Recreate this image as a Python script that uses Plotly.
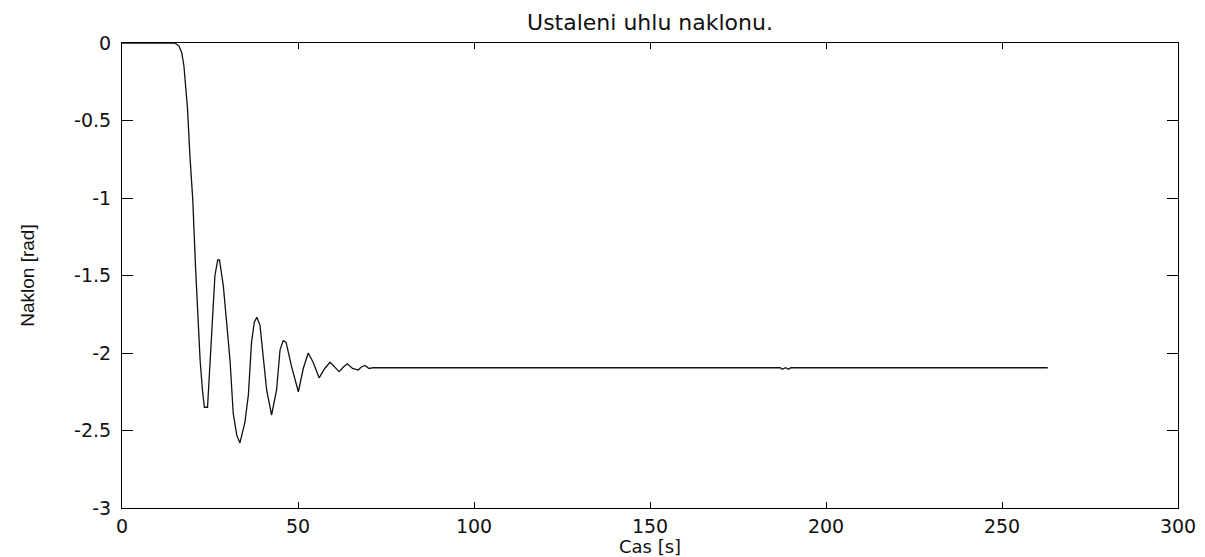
import plotly.graph_objects as go

# Data
time_s = [0, 15.0, 16.2, 17.0, 17.6, 18.6, 19.3, 20.1, 20.9, 21.7, 22.2, 22.9, 23.4, 24.3,
          24.8, 25.5, 26.4, 27.2, 27.7, 28.8, 29.7, 30.7, 31.6, 32.6, 33.5, 34.9, 35.9,
          36.8, 37.6, 38.3, 39.2, 40.2, 41.1, 42.5, 43.9, 44.9, 45.8, 46.6, 48.2, 50.1,
          51.5, 52.9, 54.3, 56.0, 57.6, 59.1, 60.4, 61.7, 62.9, 64.0, 65.5, 67.1, 68.0,
          69.0, 70.2, 71.4, 187.0, 187.6, 188.5, 189.4, 190.0, 263.0]
naklon = [0, 0, -0.02, -0.066, -0.15, -0.42, -0.73, -1.01, -1.45, -1.84, -2.05, -2.25, -2.35, -2.35,
          -2.16, -1.87, -1.50, -1.40, -1.40, -1.57, -1.82, -2.05, -2.39, -2.53, -2.58, -2.45, -2.27,
          -1.93, -1.80, -1.77, -1.82, -2.03, -2.24, -2.40, -2.24, -1.98, -1.92, -1.93, -2.09, -2.25,
          -2.10, -2.00, -2.06, -2.16, -2.10, -2.06, -2.09, -2.12, -2.09, -2.07, -2.10, -2.11, -2.09,
          -2.08, -2.10, -2.095, -2.095, -2.105, -2.095, -2.105, -2.095, -2.095]

x_ticks = [0, 50, 100, 150, 200, 250, 300]
y_ticks = [0, -0.5, -1, -1.5, -2, -2.5, -3]
y_tick_labels = ["0", "-0.5", "-1", "-1.5", "-2", "-2.5", "-3"]

W, H = 1205, 557
ML, MR, MT, MB = 122, 27, 43, 49
plot_h = H - MT - MB

fig = go.Figure()
fig.add_trace(go.Scatter(x=time_s, y=naklon, mode="lines",
                         line=dict(color="#111111", width=1.3), showlegend=False,
                         hoverinfo="x+y"))

tick_font = dict(family="DejaVu Sans", size=19, color="#111111")

fig.update_layout(
    width=W, height=H,
    margin=dict(l=ML, r=MR, t=MT, b=MB, autoexpand=False),
    paper_bgcolor="white", plot_bgcolor="white",
    title=dict(text="Ustaleni uhlu naklonu.", x=0.5, xref="paper", xanchor="center",
               y=1 - 22 / H, yref="container", yanchor="middle",
               font=dict(family="DejaVu Sans", size=22, color="#111111")),
    xaxis=dict(range=[0, 300], tickvals=x_ticks, ticks="inside", ticklen=6,
               tickcolor="black", tickwidth=1, showline=True, linecolor="black",
               linewidth=1, mirror="ticks", showgrid=False, zeroline=False,
               tickfont=tick_font, ticklabelstandoff=1),
    yaxis=dict(range=[-3, 0], tickvals=y_ticks, ticktext=y_tick_labels, ticks="inside",
               ticklen=11, tickcolor="black", tickwidth=1, showline=True,
               linecolor="black", linewidth=1, mirror="ticks", showgrid=False,
               zeroline=False, tickfont=tick_font, ticklabelstandoff=6,
               title=dict(text="Naklon [rad]", standoff=34,
                          font=dict(family="Liberation Sans Narrow, Liberation Sans", size=19,
                                    color="#111111"))),
    annotations=[dict(text="Cas [s]", xref="paper", yref="paper", x=0.5,
                      y=-(546 - (H - MB)) / plot_h, xanchor="center", yanchor="middle",
                      showarrow=False,
                      font=dict(family="DejaVu Sans", size=18, color="#111111"))],
)

fig.write_html("out.html", config={"displayModeBar": False})

# remove the default page margin so the figure sits at the window's top-left corner
with open("out.html", "r", encoding="utf-8") as f:
    html = f.read()
html = html.replace("<head>", "<head><style>html,body{margin:0;padding:0;overflow:hidden;}</style>", 1)
with open("out.html", "w", encoding="utf-8") as f:
    f.write(html)
